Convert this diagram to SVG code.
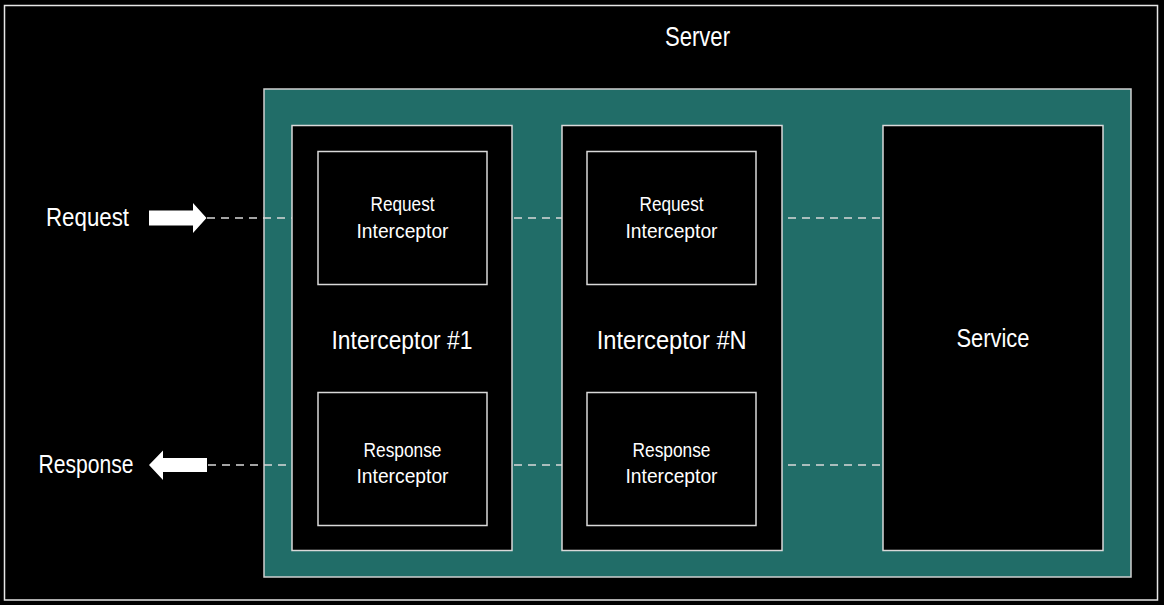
<svg xmlns="http://www.w3.org/2000/svg" width="1164" height="605" viewBox="0 0 1164 605">
  <style>
    .t { font-family: "Liberation Sans", "DejaVu Sans", sans-serif; fill: #ffffff; text-anchor: middle; }
    .box { fill: #000000; stroke: #d9d9d9; stroke-width: 1.5; }
    .dash { stroke: #d9d9d9; stroke-width: 1.6; stroke-dasharray: 8 6; fill: none; }
    .arrow { fill: #ffffff; }
  </style>
  <rect x="0" y="0" width="1164" height="605" fill="#000000"/>
  <g id="frame">
    <rect x="4.5" y="5.5" width="1153" height="594.5" fill="none" stroke="#e6e6e6" stroke-width="1.5"/>
  </g>
  <g id="server">
    <rect x="264" y="89" width="867" height="488" fill="#216d68" stroke="#d0d0d0" stroke-width="1.5"/>
    <text class="t" x="697.5" y="46" font-size="27" textLength="65" lengthAdjust="spacingAndGlyphs">Server</text>
  </g>
  <g id="interceptor1">
    <rect class="box" x="292" y="125.5" width="220" height="425"/>
    <text class="t" x="402" y="348.5" font-size="25" textLength="141" lengthAdjust="spacingAndGlyphs">Interceptor #1</text>
  </g>
  <g id="req-interceptor1">
    <rect class="box" x="318" y="151.5" width="169" height="133"/>
    <text class="t" x="402.5" y="211" font-size="20" textLength="64" lengthAdjust="spacingAndGlyphs">Request</text>
    <text class="t" x="402.5" y="237.5" font-size="20" textLength="92" lengthAdjust="spacingAndGlyphs">Interceptor</text>
  </g>
  <g id="resp-interceptor1">
    <rect class="box" x="318" y="392.5" width="169" height="133"/>
    <text class="t" x="402.5" y="456.7" font-size="20" textLength="78" lengthAdjust="spacingAndGlyphs">Response</text>
    <text class="t" x="402.5" y="482.7" font-size="20" textLength="92" lengthAdjust="spacingAndGlyphs">Interceptor</text>
  </g>
  <g id="interceptorN">
    <rect class="box" x="562" y="125.5" width="220" height="425"/>
    <text class="t" x="671.7" y="349.3" font-size="25" textLength="150" lengthAdjust="spacingAndGlyphs">Interceptor #N</text>
  </g>
  <g id="req-interceptorN">
    <rect class="box" x="587" y="151.5" width="169" height="133"/>
    <text class="t" x="671.5" y="211" font-size="20" textLength="64" lengthAdjust="spacingAndGlyphs">Request</text>
    <text class="t" x="671.5" y="237.5" font-size="20" textLength="92" lengthAdjust="spacingAndGlyphs">Interceptor</text>
  </g>
  <g id="resp-interceptorN">
    <rect class="box" x="587" y="392.5" width="169" height="133"/>
    <text class="t" x="671.5" y="456.7" font-size="20" textLength="78" lengthAdjust="spacingAndGlyphs">Response</text>
    <text class="t" x="671.5" y="482.7" font-size="20" textLength="92" lengthAdjust="spacingAndGlyphs">Interceptor</text>
  </g>
  <g id="service">
    <rect class="box" x="883" y="125.5" width="220" height="425"/>
    <text class="t" x="993" y="347.3" font-size="25" textLength="73" lengthAdjust="spacingAndGlyphs">Service</text>
  </g>
  <g id="request-label">
    <text class="t" x="87.5" y="225.7" font-size="26" textLength="83" lengthAdjust="spacingAndGlyphs">Request</text>
  </g>
  <g id="response-label">
    <text class="t" x="86" y="472.7" font-size="26" textLength="95" lengthAdjust="spacingAndGlyphs">Response</text>
  </g>
  <g id="connectors">
    <polygon class="arrow" points="149,210.5 193,210.5 193,203 206.5,218 193,233 193,225.5 149,225.5"/>
    <polygon class="arrow" points="207,458 163,458 163,450.5 149,465 163,480 163,472 207,472"/>
    <line class="dash" x1="207" y1="218" x2="292" y2="218"/>
    <line class="dash" x1="514" y1="218" x2="562" y2="218"/>
    <line class="dash" x1="788" y1="218" x2="883" y2="218"/>
    <line class="dash" x1="208" y1="465" x2="292" y2="465"/>
    <line class="dash" x1="514" y1="465" x2="562" y2="465"/>
    <line class="dash" x1="788" y1="465" x2="883" y2="465"/>
  </g>
</svg>
